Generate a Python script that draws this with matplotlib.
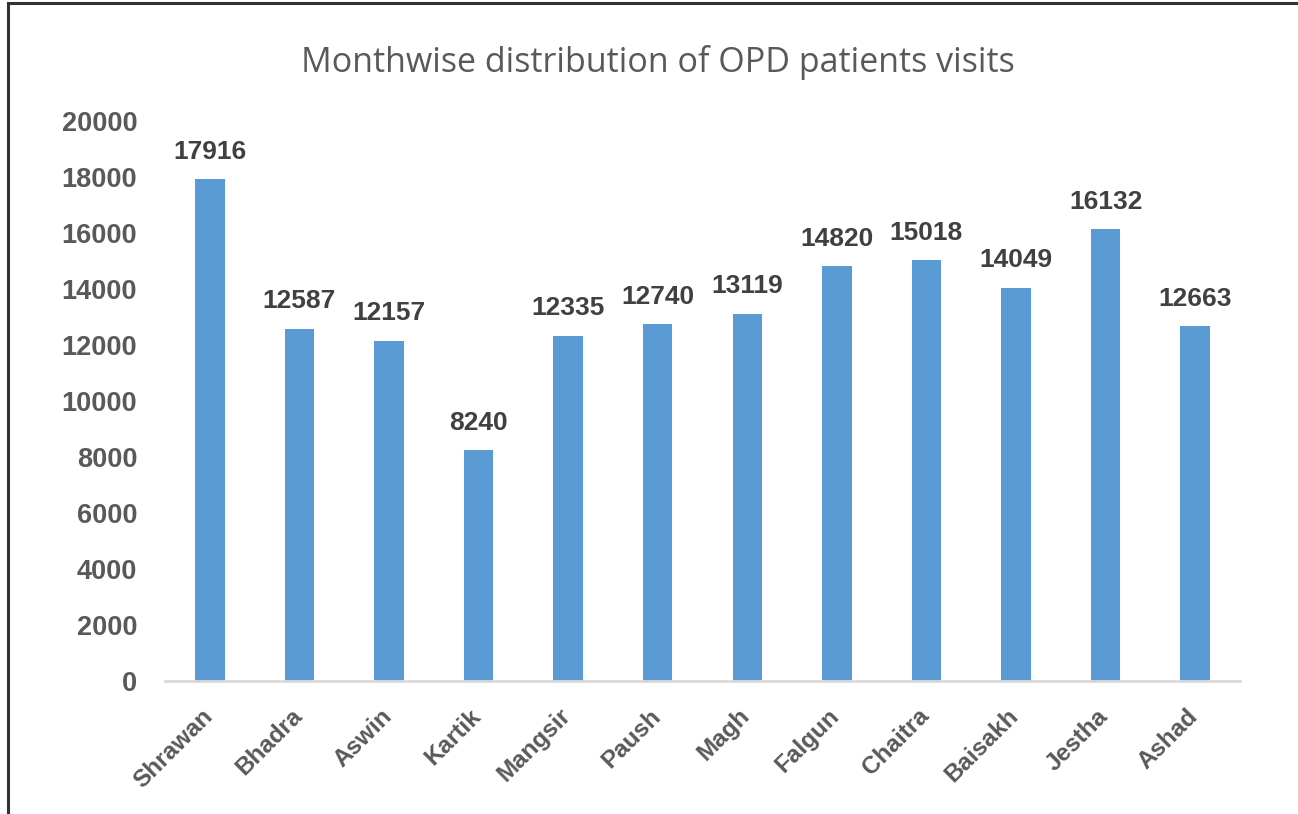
import matplotlib
matplotlib.use("Agg")
import matplotlib.pyplot as plt
from matplotlib.transforms import ScaledTranslation

months = ["Shrawan", "Bhadra", "Aswin", "Kartik", "Mangsir", "Paush", "Magh",
          "Falgun", "Chaitra", "Baisakh", "Jestha", "Ashad"]
visits = [17916, 12587, 12157, 8240, 12335, 12740, 13119, 14820, 15018, 14049, 16132, 12663]
yticks = [0, 2000, 4000, 6000, 8000, 10000, 12000, 14000, 16000, 18000, 20000]
title = "Monthwise distribution of OPD patients visits"

fig = plt.figure(figsize=(12.98, 8.14), dpi=100)
ax = fig.add_axes([165/1298, 1-681/814, (1240-165)/1298, (681-121)/814])

x = list(range(len(months)))
ax.bar(x, visits, width=0.33, color="#5B9BD5", zorder=3)
ax.set_xlim(-0.5, len(months)-0.5)
ax.set_ylim(0, 20000)
ax.set_yticks(yticks)
ax.set_yticklabels([str(v) for v in yticks], fontsize=19.5, color="#595959",
                   fontweight="bold", family="Liberation Sans")
ax.set_xticks(x)
ax.set_xticklabels(months, rotation=45, ha="right", rotation_mode="anchor",
                   fontsize=17.5, color="#595959", fontweight="bold", family="Liberation Sans")
ax.tick_params(axis="both", length=0)
ax.tick_params(axis="y", pad=20)
ax.tick_params(axis="x", pad=14)
shift = ScaledTranslation(-9/100, -4/100, fig.dpi_scale_trans)
for lbl in ax.get_xticklabels():
    lbl.set_transform(lbl.get_transform() + shift)
for s in ["top", "right", "left"]:
    ax.spines[s].set_visible(False)
ax.spines["bottom"].set_color("#D9D9D9")
ax.spines["bottom"].set_linewidth(2)
ax.spines["bottom"].set_zorder(4)

for xi, v in zip(x, visits):
    ax.annotate(str(v), (xi, v), xytext=(0, 11), textcoords="offset points",
                ha="center", va="bottom", fontsize=19, fontweight="bold",
                color="#404040", family="Liberation Sans")

fig.text(658/1298, 1-62/814, title, ha="center", va="center", fontsize=24.5,
         color="#595959", family="Open Sans")

# outer border (left and top visible)
fig.add_artist(plt.Line2D([8/1298, 8/1298], [0, 1-3/814], transform=fig.transFigure,
                          color="#333333", linewidth=2.2))
fig.add_artist(plt.Line2D([8/1298, 1], [1-3/814, 1-3/814], transform=fig.transFigure,
                          color="#333333", linewidth=2.2))

fig.savefig("out.png", dpi=100)
